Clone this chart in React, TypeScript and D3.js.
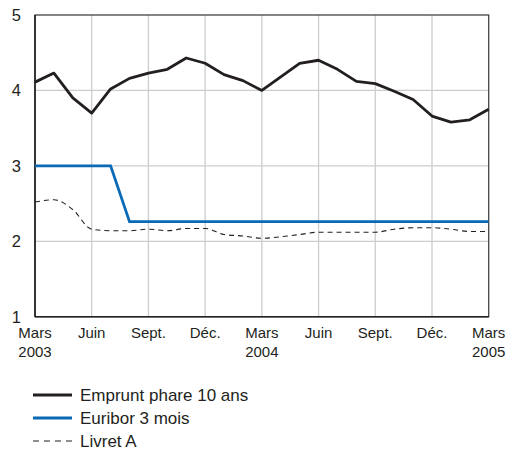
import React from "react";
import * as d3 from "d3";

const months: string[] = [
  "2003-03","2003-04","2003-05","2003-06","2003-07","2003-08","2003-09","2003-10","2003-11","2003-12",
  "2004-01","2004-02","2004-03","2004-04","2004-05","2004-06","2004-07","2004-08","2004-09","2004-10",
  "2004-11","2004-12","2005-01","2005-02","2005-03",
];
const emprunt: number[] = [4.11,4.23,3.90,3.70,4.02,4.16,4.23,4.28,4.43,4.36,4.21,4.13,4.00,4.18,4.36,4.40,4.28,4.12,4.09,3.99,3.88,3.66,3.58,3.61,3.75];
const euribor: number[] = [3.0,3.0,3.0,3.0,3.0,2.26,2.26,2.26,2.26,2.26,2.26,2.26,2.26,2.26,2.26,2.26,2.26,2.26,2.26,2.26,2.26,2.26,2.26,2.26,2.26];
const livretA: number[] = [2.52,2.55,2.42,2.16,2.14,2.14,2.16,2.14,2.17,2.17,2.09,2.07,2.04,2.06,2.09,2.12,2.12,2.12,2.12,2.16,2.18,2.18,2.16,2.13,2.13];
const xTickLabels: string[][] = [
  ["Mars","2003"],["Juin"],["Sept."],["Déc."],["Mars","2004"],["Juin"],["Sept."],["Déc."],["Mars","2005"],
];
const yTicks: number[] = [1,2,3,4,5];
const seriesNames: string[] = ["Emprunt phare 10 ans","Euribor 3 mois","Livret A"];

const W = 511, H = 450;
const L = 35, R = 488.7, T = 15, B = 316.7;
const FONT = "'Liberation Sans', Arial, Helvetica, sans-serif";

export default function App() {
  const x = d3.scaleLinear().domain([0, months.length - 1]).range([L, R]);
  const y = d3.scaleLinear().domain([1, 5]).range([B, T]);
  const lineStraight = d3.line<number>().x((_, i) => x(i)).y((d) => y(d));
  const lineSmooth = d3.line<number>().x((_, i) => x(i)).y((d) => y(d)).curve(d3.curveMonotoneX);
  const xTickIdx = xTickLabels.map((_, i) => i * 3);
  const styles = [
    { stroke: "#231f20", width: 2.8, dash: "" },
    { stroke: "#0a6ab6", width: 2.8, dash: "" },
    { stroke: "#231f20", width: 1.1, dash: "5,4" },
  ];
  return (
    <svg width={W} height={H} style={{ position: "absolute", left: 0, top: 0, background: "#fff" }} fontFamily={FONT}>
      {xTickIdx.slice(1, -1).map((i) => (
        <line key={"gx" + i} x1={x(i)} x2={x(i)} y1={T} y2={B} stroke="#cccccc" strokeWidth={1.3} />
      ))}
      {yTicks.slice(1, -1).map((v) => (
        <line key={"gy" + v} x1={L} x2={R} y1={y(v)} y2={y(v)} stroke="#cccccc" strokeWidth={1.3} />
      ))}
      <rect x={L} y={T} width={R - L} height={B - T} fill="none" stroke="#444" strokeWidth={1.3} />
      <line x1={L} x2={L} y1={T} y2={B} stroke="#222" strokeWidth={1.6} />
      <line x1={L} x2={R} y1={B} y2={B} stroke="#222" strokeWidth={1.6} />
      <path d={lineSmooth(livretA) || ""} fill="none" stroke={styles[2].stroke} strokeWidth={styles[2].width} strokeDasharray={styles[2].dash} />
      <path d={lineStraight(euribor) || ""} fill="none" stroke={styles[1].stroke} strokeWidth={styles[1].width} strokeLinejoin="miter" />
      <path d={lineStraight(emprunt) || ""} fill="none" stroke={styles[0].stroke} strokeWidth={styles[0].width} strokeLinejoin="round" />
      {yTicks.map((v) => (
        <text key={"yl" + v} x={21} y={y(v)} dy="0.36em" textAnchor="end" fontSize={16.5} fill="#231f20">{v}</text>
      ))}
      {xTickIdx.map((i, k) => (
        <text key={"xl" + i} x={x(i)} y={338} textAnchor="middle" fontSize={15} fill="#231f20">
          {xTickLabels[k].map((s, j) => (
            <tspan key={j} x={x(i)} dy={j === 0 ? 0 : 19}>{s}</tspan>
          ))}
        </text>
      ))}
      {seriesNames.map((name, k) => {
        const ly = 395 + k * 23;
        const st = styles[k];
        return (
          <g key={name}>
            <line x1={33} x2={72} y1={ly} y2={ly} stroke={st.stroke} strokeWidth={k === 2 ? 1.2 : 2.8} strokeDasharray={k === 2 ? "6,5" : ""} />
            <text x={80} y={ly} dy="0.36em" fontSize={17} fill="#231f20">{name}</text>
          </g>
        );
      })}
    </svg>
  );
}
